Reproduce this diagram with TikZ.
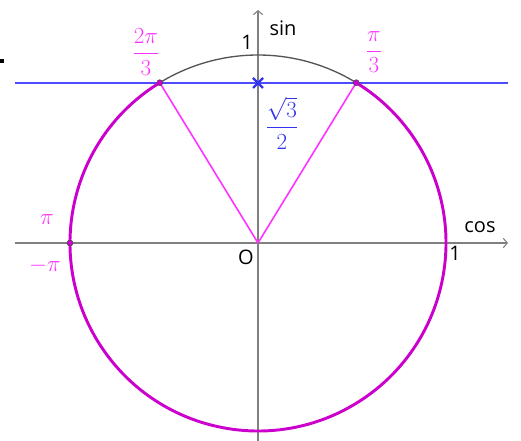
\documentclass[tikz,border=0pt]{standalone}
\usepackage{amsmath}
\usepackage{fontspec}
\newfontfamily\lblfont{Open Sans}
\usetikzlibrary{arrows.meta}
\definecolor{axisgray}{HTML}{808080}
\definecolor{arcgray}{HTML}{555555}
\definecolor{circmag}{HTML}{CC00CC}
\definecolor{linemag}{HTML}{FF33FF}
\definecolor{labmag}{HTML}{FF33FF}
\definecolor{lineblue}{HTML}{4D4DFF}
\definecolor{labblue}{HTML}{3333EE}
\tikzset{
  axisline/.style={draw=axisgray, line width=0.8pt, -{Straight Barb[length=3pt,width=7pt]}},
  sanslabel/.style={font=\lblfont\fontsize{15}{17}\selectfont, text=black, inner sep=0pt},
  maglabel/.style={font=\fontsize{16}{19}\selectfont, text=labmag, inner sep=0pt},
  bluelabel/.style={font=\fontsize{16}{19}\selectfont, text=labblue, inner sep=0pt},
  ptmark/.style={circle, fill=circmag, draw=black!70, line width=0.4pt, inner sep=0pt, minimum size=4.5pt},
}
\begin{document}
\begin{tikzpicture}[x=0.75pt,y=0.75pt]
\useasboundingbox (-258,-198) rectangle (263,243);
% axes
\coordinate (xl) at (-243,0);
\coordinate (xr) at (250,0);
\coordinate (yb) at (0,-198);
\coordinate (yt) at (0,233);
\draw[axisline] (xl) -- (xr);
\draw[axisline] (yb) -- (yt);
% key points
\coordinate (O) at (0,0);
\coordinate (A) at (58.5:188);
\coordinate (B) at (121.5:188);
\coordinate (C) at (-188,0);
% blue line
\coordinate (bl) at (-243,160);
\coordinate (br) at (250,160);
\draw[lineblue, line width=2.1pt] (bl) -- (br);
% arcs
\draw[arcgray, line width=1pt] (A) arc[start angle=58.5, end angle=121.5, radius=188];
\draw[circmag, line width=2.2pt] (B) arc[start angle=121.5, end angle=418.5, radius=188];
% radii
\draw[linemag, line width=1.2pt] (O) -- (A);
\draw[linemag, line width=1.2pt] (O) -- (B);
% blue cross
\coordinate (S) at (0,160);
\draw[labblue, line width=1.7pt] ([shift={(-5,-5)}]S) -- ([shift={(5,5)}]S);
\draw[labblue, line width=1.7pt] ([shift={(-5,5)}]S) -- ([shift={(5,-5)}]S);
% points
\node[ptmark] (pA) at (A) {};
\node[ptmark] (pB) at (B) {};
\node[ptmark] (pC) at (C) {};
% small black mark
\fill[black] (-258,180) rectangle (-254,184);
% labels
\node[sanslabel] (lsin) at (25,215) {sin};
\node[sanslabel] (lcos) at (222,16) {cos};
\node[sanslabel] (l1t) at (-11,201) {1};
\node[sanslabel] (l1r) at (197,-10) {1};
\node[sanslabel] (lO) at (-12,-14) {O};
\node[maglabel] (l2pi3) at (-112,191) {$\dfrac{2\pi}{3}$};
\node[maglabel] (lpi3) at (116,191) {$\dfrac{\pi}{3}$};
\node[bluelabel] (lsq) at (24,120) {$\dfrac{\sqrt{3}}{2}$};
\node[maglabel] (lpi) at (-211,23) {$\pi$};
\node[maglabel] (lmpi) at (-213,-23) {$-\pi$};
\end{tikzpicture}
\end{document}
